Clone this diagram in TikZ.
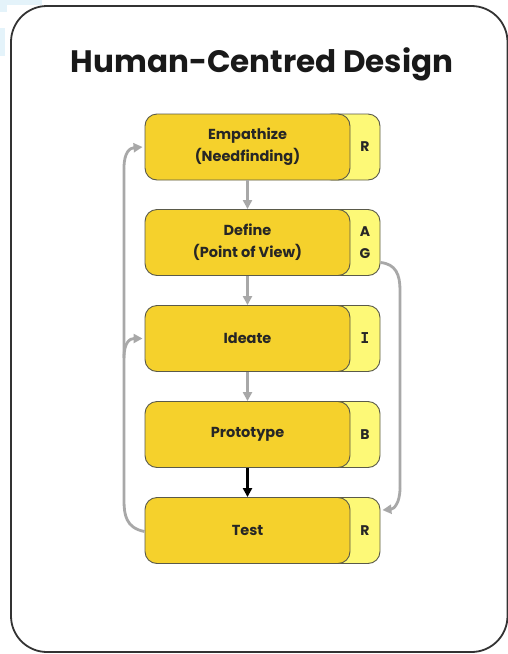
\documentclass[tikz,border=0pt]{standalone}
\usepackage{fontspec}
\setmainfont{Poppins}
\usetikzlibrary{arrows.meta}
\definecolor{stepyellow}{HTML}{F5D12C}
\definecolor{tabyellow}{HTML}{FDF977}
\definecolor{edgegray}{HTML}{5A5A4A}
\definecolor{flowgray}{HTML}{A8A8A8}
\definecolor{haze}{HTML}{E4F3FA}
\tikzset{
  x=1pt, y=-1pt,
  stepbox/.style={draw=edgegray, line width=0.9pt, fill=stepyellow, rounded corners=12pt,
    minimum width=205pt, minimum height=66pt, inner sep=0pt, align=center,
    font=\bfseries\fontsize{14.5}{22}\selectfont, text=black!85},
  tabbox/.style={draw=edgegray, line width=0.9pt, fill=tabyellow, rounded corners=12pt,
    minimum width=60pt, minimum height=66pt, inner sep=0pt},
  tabletter/.style={inner sep=0pt, align=center,
    font=\bfseries\fontsize{14}{22}\selectfont, text=black!85},
  flow/.style={draw=flowgray, line width=2.8pt,
    -{Triangle[width=9pt,length=9pt]}},
  flowline/.style={draw=flowgray, line width=2.8pt},
  frame/.style={draw=black!80, line width=1.8pt, rounded corners=36pt},
}
\begin{document}
\begin{tikzpicture}
\useasboundingbox (0,0) rectangle (508,654);
\fill[white] (0,0) rectangle (508,654);
% faint backdrop pieces at the top-left corner
\fill[haze] (0,0) rectangle (42,5);
\fill[haze] (0,0) rectangle (7,12);
\fill[haze] (0,28) rectangle (5,56);
% outer frame
\draw[frame] (11,6) rectangle (507.5,652);
\node[font=\bfseries\fontsize{31}{34}\selectfont, text=black!90] (title) at (262,64) {Human-Centred Design};

% steps: tab behind, main box, tab letter
\foreach \i/\y in {1/147, 2/242.5, 3/338.5, 4/434.5, 5/530.5}{
  \node[tabbox] (tab\i) at (350,\y) {};
}
\node[stepbox] (s1) at (247.5,147) {Empathize\\(Needfinding)};
\node[stepbox] (s2) at (247.5,242.5) {Define\\(Point of View)};
\node[stepbox] (s3) at (247.5,338.5) {Ideate};
\node[stepbox] (s4) at (247.5,434.5) {Prototype};
\node[stepbox] (s5) at (247.5,530.5) {Test};

\node[tabletter] (l1) at (365,147) {R};
\node[tabletter] (l2) at (365,242.5) {A\\G};
\node[tabletter, font=\fontspec{DejaVu Sans Mono}\bfseries\fontsize{15}{22}\selectfont] (l3) at (365,338.5) {I};
\node[tabletter] (l4) at (365,434.5) {B};
\node[tabletter] (l5) at (365,530.5) {R};

% forward flow
\draw[flow] (s1) -- (s2);
\draw[flow] (s2) -- (s3);
\draw[flow] (s3) -- (s4);
\draw[flow, draw=black] (s4) -- (s5);

% loop back from Test to Empathize and Ideate
\coordinate (lb) at (124,500);
\coordinate (lt) at (124,168);
\coordinate (lm) at (124,358);
\draw[flowline] ([yshift=-1pt]s5.west) .. controls (126,528) and (124,515) .. (lb) -- (lt);
\draw[flow] (lt) .. controls (124,152) and (130,148) .. ([xshift=-2pt]s1.west);
\draw[flow] (lm) .. controls (124,342) and (130,338.5) .. ([xshift=-2pt]s3.west);

% shortcut from Define to Test
\coordinate (rt) at (400,290);
\coordinate (rb) at (400,488);
\draw[flowline] ([yshift=-20pt]tab2.east) .. controls (396,264) and (400,275) .. (rt) -- (rb);
\draw[flow] (rb) .. controls (400,503) and (394,509) .. ([yshift=-13pt,xshift=2pt]tab5.north east);
\end{tikzpicture}
\end{document}
